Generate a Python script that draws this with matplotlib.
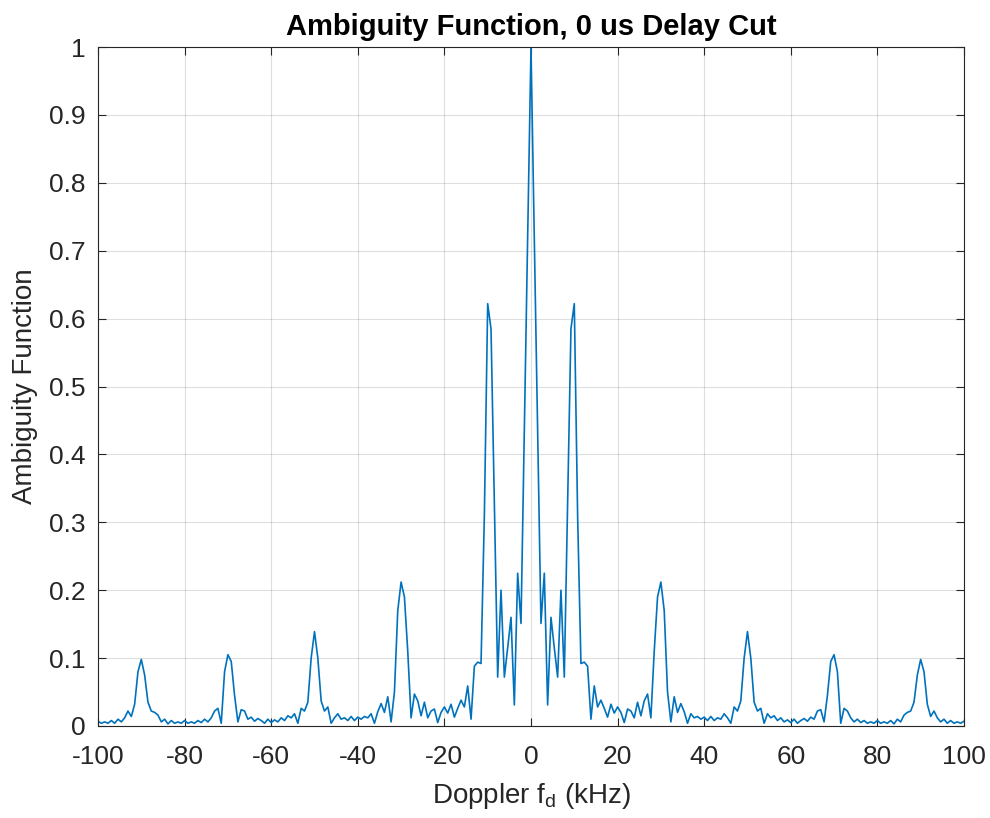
import numpy as np
import matplotlib.pyplot as plt

# Doppler grid: 261 samples from -100 to 100 kHz
doppler_khz = np.linspace(-100, 100, 261)

# Ambiguity values, f < 0 (from -100 up to -0.77 kHz)
amp_neg = [
    0.007, 0.004, 0.006, 0.004, 0.008, 0.004, 0.010, 0.006, 0.012, 0.022,
    0.014, 0.032, 0.080, 0.098, 0.075, 0.035, 0.022, 0.020, 0.016, 0.006,
    0.010, 0.003, 0.008, 0.004, 0.006, 0.004, 0.008, 0.004, 0.006, 0.004,
    0.008, 0.005, 0.010, 0.006, 0.012, 0.022, 0.026, 0.004, 0.080, 0.105,
    0.095, 0.045, 0.006, 0.024, 0.022, 0.010, 0.013, 0.007, 0.011, 0.008,
    0.004, 0.010, 0.005, 0.009, 0.006, 0.012, 0.008, 0.015, 0.012, 0.018,
    0.004, 0.026, 0.022, 0.035, 0.100, 0.139, 0.100, 0.037, 0.022, 0.028,
    0.004, 0.012, 0.018, 0.010, 0.012, 0.008, 0.014, 0.008, 0.013, 0.010,
    0.014, 0.012, 0.018, 0.004, 0.021, 0.033, 0.020, 0.043, 0.006, 0.050,
    0.170, 0.212, 0.190, 0.110, 0.012, 0.047, 0.037, 0.015, 0.035, 0.012,
    0.022, 0.025, 0.005, 0.020, 0.028, 0.019, 0.032, 0.013, 0.026, 0.038,
    0.028, 0.059, 0.010, 0.088, 0.094, 0.092, 0.310, 0.622, 0.585, 0.330,
    0.072, 0.200, 0.072, 0.115, 0.160, 0.031, 0.225, 0.151, 0.440, 0.720,
]

# f >= 0 (from 0 to 100 kHz)
amp_pos = [
    1.000, 0.720, 0.440, 0.151, 0.225, 0.031, 0.160, 0.115, 0.072, 0.200,
    0.072, 0.330, 0.585, 0.622, 0.310, 0.092, 0.094, 0.088, 0.010, 0.059,
    0.028, 0.038, 0.026, 0.013, 0.032, 0.019, 0.028, 0.020, 0.005, 0.025,
    0.022, 0.012, 0.035, 0.015, 0.037, 0.047, 0.012, 0.110, 0.190, 0.212,
    0.170, 0.050, 0.006, 0.043, 0.020, 0.033, 0.021, 0.004, 0.018, 0.012,
    0.014, 0.010, 0.013, 0.008, 0.014, 0.008, 0.012, 0.010, 0.018, 0.012,
    0.004, 0.028, 0.022, 0.037, 0.100, 0.139, 0.100, 0.035, 0.022, 0.026,
    0.004, 0.018, 0.012, 0.015, 0.008, 0.012, 0.006, 0.009, 0.005, 0.010,
    0.004, 0.008, 0.011, 0.007, 0.013, 0.010, 0.022, 0.024, 0.006, 0.045,
    0.095, 0.105, 0.080, 0.004, 0.026, 0.022, 0.012, 0.006, 0.010, 0.005,
    0.008, 0.004, 0.006, 0.004, 0.008, 0.004, 0.006, 0.004, 0.008, 0.003,
    0.010, 0.006, 0.016, 0.020, 0.022, 0.035, 0.075, 0.098, 0.080, 0.032,
    0.014, 0.022, 0.012, 0.006, 0.010, 0.004, 0.008, 0.004, 0.006, 0.004,
    0.007,
]

amp = np.array(amp_neg + amp_pos)

x_ticks = list(range(-100, 101, 20))
y_ticks = [0, 0.1, 0.2, 0.3, 0.4, 0.5, 0.6, 0.7, 0.8, 0.9, 1]
y_tick_labels = ["0", "0.1", "0.2", "0.3", "0.4", "0.5", "0.6", "0.7", "0.8", "0.9", "1"]

plt.rcParams["font.family"] = ["Liberation Sans", "DejaVu Sans"]
axis_gray = "#262626"

fig = plt.figure(figsize=(9.9, 8.18), dpi=100)
ax = fig.add_axes([0.099, 0.1125, 0.8747, 0.83])

ax.plot(doppler_khz, amp, color="#0072BD", linewidth=1.2)

ax.set_xlim(-100, 100)
ax.set_ylim(0, 1)
ax.set_xticks(x_ticks)
ax.set_xticklabels([str(t) for t in x_ticks])
ax.set_yticks(y_ticks)
ax.set_yticklabels(y_tick_labels)

ax.grid(True, color=axis_gray, alpha=0.15, linewidth=0.8)
ax.tick_params(direction="in", length=6, width=0.8, colors=axis_gray,
               labelsize=19, top=True, right=True)
ax.tick_params(axis="x", pad=14)
ax.tick_params(axis="y", pad=9)
for s in ax.spines.values():
    s.set_color(axis_gray)
    s.set_linewidth(0.8)

ax.set_xlabel("Doppler f$_\\mathregular{d}$ (kHz)", fontsize=20, color=axis_gray, labelpad=8)
ax.set_ylabel("Ambiguity Function", fontsize=20, color=axis_gray, labelpad=8)
ax.set_title("Ambiguity Function, 0 us Delay Cut", fontsize=21, fontweight="bold", pad=9)

fig.savefig("out.png", dpi=100)
